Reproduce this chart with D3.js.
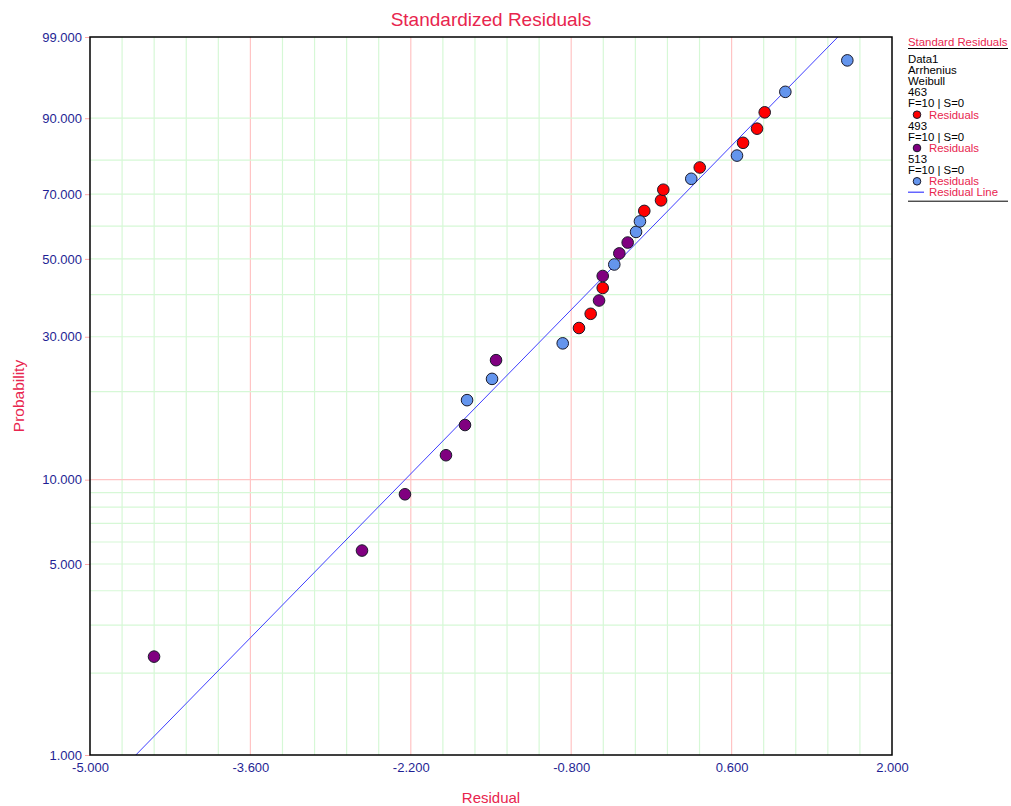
<!DOCTYPE html>
<html><head><meta charset="utf-8">
<script src="https://cdn.jsdelivr.net/npm/d3@7"></script>
<style>body{margin:0;background:#fff}svg{display:block}text{font-family:"Liberation Sans",Arial,sans-serif}</style>
</head><body><svg id="c" width="1011" height="806"></svg>
<script>
// ---- data ----
const red463Resid = [-0.732,-0.630,-0.525,-0.162,-0.016,0.004,0.322,0.700,0.822,0.889];
const red463Prob  = [31.91,35.20,41.78,64.80,68.09,71.38,77.96,84.54,87.83,91.12];
const pur493Resid = [-4.441,-2.626,-2.251,-1.893,-1.727,-1.456,-0.557,-0.525,-0.380,-0.307];
const pur493Prob  = [2.30,5.59,8.88,12.17,15.46,25.33,38.49,45.07,51.64,54.93];
const blu513Resid = [-1.709,-1.491,-0.874,-0.424,-0.234,-0.200,0.248,0.647,1.069,1.610];
const blu513Prob  = [18.75,22.04,28.62,48.36,58.22,61.51,74.67,81.25,94.41,97.70];
const xTicks = [-5,-3.6,-2.2,-0.8,0.6,2];
const yTicks = [1,5,10,30,50,70,90,99];
const yMinorGrid = [2,3,4,5,6,7,8,9,20,30,40,50,60,70,80,90];
const legendLines = ["Data1","Arrhenius","Weibull"];
const seriesNames = ["463","493","513"];

// ---- layout ----
const svg = d3.select("#c");
const L=90,R=892,T=37,B=755;
const wz = p => Math.log(-Math.log(1-p/100));
const x = d3.scaleLinear().domain([-5,2]).range([L,R]);
const y = d3.scaleLinear().domain([wz(1),wz(99)]).range([B,T]);
const crimson="#e8254e", navy="#1f1f94";
const fmt = v => d3.format(".3f")(v).replace("\u2212","-");

// grid
const g = svg.append("g");
const xMinor = d3.range(0,26).map(i=>-5+i*0.28).filter(v=>v>-4.99&&v<1.99);
xMinor.forEach(v=>{
  const major = xTicks.some(t=>Math.abs(t-v)<1e-6);
  g.append("line").attr("x1",x(v)).attr("x2",x(v)).attr("y1",T).attr("y2",B)
   .attr("stroke",major?"#ffc4c4":"#d6f8d6").attr("stroke-width",1.2);
});
yMinorGrid.forEach(p=>{
  g.append("line").attr("x1",L).attr("x2",R).attr("y1",y(wz(p))).attr("y2",y(wz(p)))
   .attr("stroke","#d6f8d6").attr("stroke-width",1.2);
});
g.append("line").attr("x1",L).attr("x2",R).attr("y1",y(wz(10))).attr("y2",y(wz(10)))
 .attr("stroke","#ffc4c4").attr("stroke-width",1.2);

// residual line (z = residual)
svg.append("defs").append("clipPath").attr("id","clp").append("rect")
  .attr("x",L).attr("y",T).attr("width",R-L).attr("height",B-T);
svg.append("line").attr("clip-path","url(#clp)")
  .attr("x1",x(wz(1))).attr("y1",y(wz(1))).attr("x2",x(wz(99))).attr("y2",y(wz(99)))
  .attr("stroke","#3f3fff").attr("stroke-width",1);

// axes
const xAxis = d3.axisBottom(x).tickValues(xTicks).tickFormat(fmt).tickSize(0).tickPadding(8);
const xa = svg.append("g").attr("transform",`translate(0,${B})`).call(xAxis);
xa.select(".domain").remove();
xa.selectAll("text").attr("fill",navy).attr("font-size",13).attr("font-family","Liberation Sans, Arial, sans-serif");

const yAxis = d3.axisLeft(y).tickValues(yTicks.map(wz)).tickFormat((d,i)=>fmt(yTicks[i])).tickSize(5).tickPadding(3);
const ya = svg.append("g").attr("transform",`translate(${L},0)`).call(yAxis);
ya.select(".domain").remove();
ya.selectAll(".tick line").attr("stroke","#ffaaaa");
ya.selectAll("text").attr("fill",navy).attr("font-size",13).attr("font-family","Liberation Sans, Arial, sans-serif");

// frame
svg.append("rect").attr("x",L).attr("y",T).attr("width",R-L).attr("height",B-T)
  .attr("fill","none").attr("stroke","#000").attr("stroke-width",1.5);

// points
const series = [
  {r:red463Resid,p:red463Prob,c:"#ff0000"},
  {r:pur493Resid,p:pur493Prob,c:"#800080"},
  {r:blu513Resid,p:blu513Prob,c:"#6495ed"}
];
series.forEach(s=>{
  svg.append("g").selectAll("circle").data(s.r.map((v,i)=>[v,s.p[i]])).join("circle")
    .attr("cx",d=>x(d[0])).attr("cy",d=>y(wz(d[1]))).attr("r",5.8)
    .attr("fill",s.c).attr("stroke","#1a1a2a").attr("stroke-width",1);
});

// titles
svg.append("text").attr("x",491).attr("y",26).attr("text-anchor","middle")
  .attr("font-size",19).attr("fill",crimson).text("Standardized Residuals");
svg.append("text").attr("x",491).attr("y",803).attr("text-anchor","middle")
  .attr("font-size",15).attr("fill",crimson).text("Residual");
svg.append("text").attr("transform","translate(24,396) rotate(-90)").attr("text-anchor","middle")
  .attr("font-size",15.5).attr("fill",crimson).text("Probability");

// legend
const lg = svg.append("g").attr("font-size",11.4);
const lx=908;
lg.append("text").attr("x",lx).attr("y",46).attr("fill",crimson).text("Standard Residuals");
lg.append("line").attr("x1",lx).attr("x2",1008).attr("y1",48.5).attr("y2",48.5).attr("stroke","#000").attr("stroke-width",1);
let ly=63;
legendLines.forEach(t=>{lg.append("text").attr("x",lx).attr("y",ly).attr("fill","#000").text(t); ly+=11.1;});
series.forEach((s,i)=>{
  lg.append("text").attr("x",lx).attr("y",ly).attr("fill","#000").text(seriesNames[i]); ly+=11.1;
  lg.append("text").attr("x",lx).attr("y",ly).attr("fill","#000").text("F=10 | S=0"); ly+=11.1;
  lg.append("circle").attr("cx",917).attr("cy",ly-3.8).attr("r",3.8).attr("fill",s.c).attr("stroke","#1a1a2a").attr("stroke-width",1);
  lg.append("text").attr("x",929).attr("y",ly).attr("fill",crimson).text("Residuals"); ly+=11.1;
});
lg.append("line").attr("x1",lx).attr("x2",924).attr("y1",ly-4).attr("y2",ly-4).attr("stroke","#3f3fff").attr("stroke-width",1.2);
lg.append("text").attr("x",929).attr("y",ly).attr("fill",crimson).text("Residual Line");
lg.append("line").attr("x1",lx).attr("x2",1008).attr("y1",ly+5).attr("y2",ly+5).attr("stroke","#000").attr("stroke-width",1);
</script></body></html>
